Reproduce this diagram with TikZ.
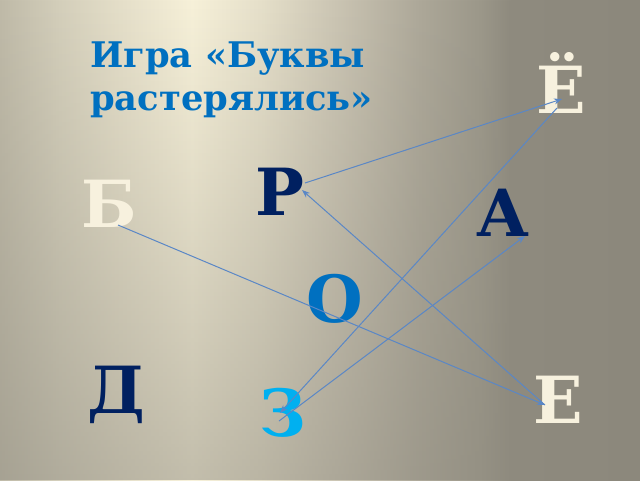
\documentclass[tikz,border=0pt]{standalone}
\usepackage{fontspec}
\setmainfont{DejaVu Serif}
\usetikzlibrary{arrows.meta,fadings}
\definecolor{bg0}{HTML}{BFBAA8}
\definecolor{bg1}{HTML}{D4CFBB}
\definecolor{bg2}{HTML}{E5DFC9}
\definecolor{bg3}{HTML}{F7F1D9}
\definecolor{bg4}{HTML}{E6E0CA}
\definecolor{bg5}{HTML}{CDC7B5}
\definecolor{bg6}{HTML}{ADA899}
\definecolor{bg7}{HTML}{9C988A}
\definecolor{bg8}{HTML}{8E8A7E}
\definecolor{bg9}{HTML}{8C887C}
\definecolor{titleblue}{HTML}{0070C0}
\definecolor{navy}{HTML}{002060}
\definecolor{cream}{HTML}{F7F1DE}
\definecolor{zcyan}{HTML}{00B0F0}
\definecolor{linkblue}{HTML}{5A87C6}
\pgfdeclarehorizontalshading{bgshade}{100bp}{color(0bp)=(bg0); color(25bp)=(bg0); color(29.69bp)=(bg1); color(34.38bp)=(bg2); color(40bp)=(bg3); color(45.31bp)=(bg4); color(50.78bp)=(bg5); color(57.81bp)=(bg6); color(62.5bp)=(bg7); color(65bp)=(bg8); color(75bp)=(bg9); color(100bp)=(bg9)}
\tikzfading[name=vfade, top color=transparent!100, middle color=transparent!95, bottom color=transparent!50]
\begin{document}
\begin{tikzpicture}[x=1pt,y=-1pt,
  letter/.style={font=\fontsize{65}{65}\selectfont\bfseries, inner sep=0pt, anchor=base},
  titletext/.style={font=\fontsize{35.3}{43}\selectfont\bfseries, text=titleblue, align=left, inner sep=0pt, anchor=north west},
  link/.style={draw=linkblue, line width=1pt, -{Stealth[length=8pt,width=6pt,inset=2.5pt]}}]
\useasboundingbox (0,0) rectangle (640,480);
\shade[shading=bgshade] (0,0) rectangle (640,480);
\fill[bg8, path fading=vfade] (0,0) rectangle (640,480);

\node[titletext] (title) at (90,41.3) {Игра «Буквы\\растерялись»};

\node[letter, text=cream] (Yo) at (561,113) {Ё};
\node[letter, text=navy] (R) at (280,215) {Р};
\node[letter, text=cream] (B) at (109,227) {Б};
\node[letter, text=navy] (A) at (503,236) {А};
\node[letter, text=titleblue] (O) at (335,322) {О};
\node[letter, text=navy] (D) at (116,413) {Д};
\node[letter, text=cream] (E) at (558,423) {Е};
\node[letter, text=zcyan] (Z) at (283,436) {З};

\coordinate (bS) at ([shift={(9,-2)}]B.base);
\coordinate (eIn) at ([shift={(-13,-18)}]E.base);
\coordinate (rIn) at ([shift={(22,-25)}]R.base);
\coordinate (rOut) at ([shift={(25,-32)}]R.base);
\coordinate (yoIn) at ([shift={(1,-14)}]Yo.base);
\coordinate (yoOut) at ([shift={(-4,-5)}]Yo.base);
\coordinate (zIn) at ([shift={(-3,-23)}]Z.base);
\coordinate (zOut) at ([shift={(-4,-15)}]Z.base);
\coordinate (aIn) at ([shift={(22,0)}]A.base);

\draw[link] (bS) -- (eIn);
\draw[link] (eIn) -- (rIn);
\draw[link] (rOut) -- (yoIn);
\draw[link] (yoOut) -- (zIn);
\draw[link] (zOut) -- (aIn);
\end{tikzpicture}
\end{document}
